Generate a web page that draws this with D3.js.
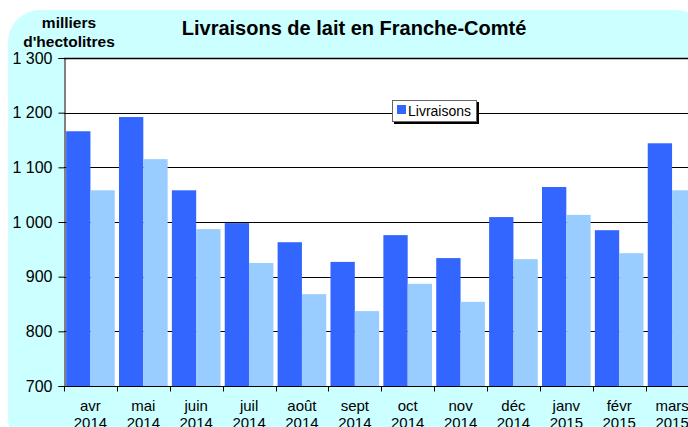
<!DOCTYPE html>
<html lang="fr">
<head>
<meta charset="UTF-8">
<title>Livraisons de lait en Franche-Comté</title>
<script src="https://d3js.org/d3.v7.min.js"></script>
<style>
  body { margin: 0; background: #fff; }
  svg { display: block; font-family: "Liberation Sans", Arial, sans-serif; }
</style>
</head>
<body>
<script>
// données
const mois = ["avr", "mai", "juin", "juil", "août", "sept", "oct", "nov", "déc", "janv", "févr", "mars"];
const annees = ["2014", "2014", "2014", "2014", "2014", "2014", "2014", "2014", "2014", "2015", "2015", "2015"];
const livraisons = [1166, 1192, 1058, 998, 963, 927, 976, 934, 1009, 1064, 985, 1144];
const anneePrec = [1058, 1115, 987, 925, 868, 837, 887, 854, 932, 1013, 943, 1058];
const yTicks = [700, 800, 900, 1000, 1100, 1200, 1300];

const width = 688, height = 427;
const plot = { left: 64, top: 58, right: 698.5, bottom: 386 };

const svg = d3.select("body").append("svg")
  .attr("width", width).attr("height", height);

// fond cyan arrondi
svg.append("rect")
  .attr("x", 8).attr("y", 10)
  .attr("width", 700).attr("height", 440)
  .attr("rx", 32).attr("ry", 32)
  .attr("fill", "#ccffff");

// zone du graphique
svg.append("rect")
  .attr("x", plot.left).attr("y", plot.top)
  .attr("width", plot.right - plot.left).attr("height", plot.bottom - plot.top)
  .attr("fill", "#fff");

const x = d3.scaleBand()
  .domain(d3.range(mois.length))
  .range([plot.left, plot.right])
  .paddingInner(0.08)
  .paddingOuter(0.04);

const xSub = d3.scaleBand()
  .domain([0, 1])
  .range([0, x.bandwidth()]);

const y = d3.scaleLinear()
  .domain([700, 1300])
  .range([plot.bottom, plot.top]);

// grille
svg.append("g")
  .selectAll("line")
  .data(yTicks.slice(1))
  .join("line")
  .attr("x1", plot.left).attr("x2", plot.right)
  .attr("y1", d => Math.round(y(d)) + 0.5).attr("y2", d => Math.round(y(d)) + 0.5)
  .attr("stroke", "#000")
  .attr("stroke-width", d => d === 1300 ? 1.5 : 1);

// barres
const groupes = svg.append("g")
  .selectAll("g")
  .data(mois.map((m, i) => i))
  .join("g")
  .attr("transform", i => `translate(${x(i)},0)`);

groupes.append("rect")
  .attr("x", xSub(0))
  .attr("y", i => y(livraisons[i]))
  .attr("width", xSub.bandwidth())
  .attr("height", i => plot.bottom - y(livraisons[i]))
  .attr("fill", "#3366ff");

groupes.append("rect")
  .attr("x", xSub(1))
  .attr("y", i => y(anneePrec[i]))
  .attr("width", xSub.bandwidth())
  .attr("height", i => plot.bottom - y(anneePrec[i]))
  .attr("fill", "#99ccff");

// axe des ordonnées
const yAxis = svg.append("g")
  .attr("transform", `translate(${plot.left + 0.5},0)`)
  .call(d3.axisLeft(y).tickValues(yTicks).tickSize(6).tickPadding(6)
    .tickFormat(d => d3.format(",")(d).replace(",", " ")));
yAxis.select(".domain").attr("stroke", "#000");
yAxis.selectAll(".tick line").attr("stroke", "#000");
yAxis.selectAll("text")
  .attr("font-size", 16).attr("fill", "#000")
  .attr("font-family", "Liberation Sans, Arial, sans-serif");

// axe des abscisses
const xb = svg.append("g")
  .attr("transform", `translate(0,${plot.bottom + 0.5})`);
xb.append("line")
  .attr("x1", plot.left).attr("x2", plot.right)
  .attr("stroke", "#000");
xb.selectAll("line.tk")
  .data(d3.range(mois.length + 1))
  .join("line")
  .attr("class", "tk")
  .attr("x1", i => Math.round(plot.left + i * x.step()) + 0.5)
  .attr("x2", i => Math.round(plot.left + i * x.step()) + 0.5)
  .attr("y1", 0).attr("y2", 5)
  .attr("stroke", "#000");

const lab = xb.selectAll("text")
  .data(d3.range(mois.length))
  .join("text")
  .attr("x", i => plot.left + (i + 0.5) * x.step())
  .attr("text-anchor", "middle")
  .attr("font-size", 15)
  .attr("fill", "#000");
lab.append("tspan").attr("x", i => plot.left + (i + 0.5) * x.step()).attr("y", 24).text(i => mois[i]);
lab.append("tspan").attr("x", i => plot.left + (i + 0.5) * x.step()).attr("y", 41).text(i => annees[i]);

// titre
svg.append("text")
  .attr("x", 354).attr("y", 35)
  .attr("text-anchor", "middle")
  .attr("font-size", 20).attr("font-weight", "bold")
  .text("Livraisons de lait en Franche-Comté");

// unité
svg.append("text")
  .attr("x", 69).attr("y", 28)
  .attr("text-anchor", "middle")
  .attr("font-size", 15.5).attr("font-weight", "bold")
  .text("milliers");
svg.append("text")
  .attr("x", 69).attr("y", 47)
  .attr("text-anchor", "middle")
  .attr("font-size", 15.5).attr("font-weight", "bold")
  .text("d'hectolitres");

// légende
const leg = svg.append("g").attr("transform", "translate(392,100)");
leg.append("rect")
  .attr("x", 2).attr("y", 2).attr("width", 85).attr("height", 22)
  .attr("fill", "#000");
leg.append("rect")
  .attr("x", 0.5).attr("y", 0.5).attr("width", 84).attr("height", 21)
  .attr("fill", "#fff").attr("stroke", "#666");
leg.append("rect")
  .attr("x", 5).attr("y", 5).attr("width", 9).attr("height", 9)
  .attr("fill", "#3366ff");
leg.append("text")
  .attr("x", 16).attr("y", 16)
  .attr("font-size", 14)
  .text("Livraisons");
</script>
</body>
</html>
